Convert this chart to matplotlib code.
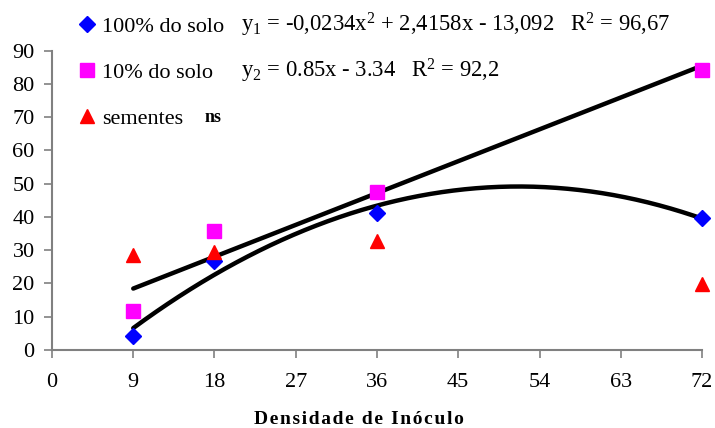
import matplotlib
matplotlib.use("Agg")
import matplotlib.pyplot as plt
import numpy as np

plt.rcParams["font.family"] = ["Liberation Serif", "DejaVu Serif"]
plt.rcParams["mathtext.fontset"] = "custom"
plt.rcParams["mathtext.rm"] = "Liberation Serif"
plt.rcParams["mathtext.it"] = "Liberation Serif"

# doses (x) and responses
dens = [9, 18, 36, 72]
solo100 = [4.2, 26.8, 41.3, 39.8]
solo10 = [11.7, 35.7, 47.5, 84.2]
sementes = [28.5, 29.5, 32.7, 19.8]

xticks = [0, 9, 18, 27, 36, 45, 54, 63, 72]
yticks = [0, 10, 20, 30, 40, 50, 60, 70, 80, 90]

eq1 = "y$_1$ = -0,0234x$^2$ + 2,4158x - 13,092   R$^2$ = 96,67"
eq2 = "y$_2$ = 0.85x - 3.34   R$^2$ = 92,2"
xlabel = "Densidade de Inóculo"

W, H = 715, 428
fig = plt.figure(figsize=(W / 100, H / 100), dpi=100)
ax = fig.add_axes([52 / W, 1 - 350 / H, (702 - 52) / W, 299.5 / H])

# trend lines (Excel-style fits of the data)
xs = np.linspace(dens[0], dens[-1], 200)
p1 = np.polyfit(dens, solo100, 2)
p2 = np.polyfit(dens, solo10, 1)
ax.plot(xs, np.polyval(p1, xs), color="black", lw=3.2, solid_capstyle="round", zorder=2)
ax.plot(xs, np.polyval(p2, xs), color="black", lw=3.2, solid_capstyle="round", zorder=2)

h1, = ax.plot(dens, solo100, "D", color="#0000ff", ms=8.5, clip_on=False, zorder=3, ls="none")
h2, = ax.plot(dens, solo10, "s", color="#ff00ff", ms=10, clip_on=False, zorder=3, ls="none")
h3, = ax.plot(dens, sementes, "^", color="#ff0000", ms=10.5, clip_on=False, zorder=3, ls="none")

ax.set_xlim(0, 72)
ax.set_ylim(0, 90)
ax.set_xticks(xticks)
ax.set_yticks(yticks)
for s in ["top", "right"]:
    ax.spines[s].set_visible(False)
for s in ["left", "bottom"]:
    ax.spines[s].set_color("#808080")
    ax.spines[s].set_linewidth(1.5)
ax.tick_params(direction="out", length=5.5, width=1.2, color="#808080",
               labelsize=16, labelcolor="black")
ax.tick_params(axis="y", pad=7)
ax.tick_params(axis="x", pad=11)

# bold, widely spaced axis title (hair spaces between letters)
spaced = "\u200a".join(xlabel)
fig.text(359 / W, 1 - 424 / H, spaced, fontsize=14, fontweight="bold",
         ha="center", va="baseline")

leg = fig.legend([h1, h2, h3], ["100% do solo", "10% do solo", "sementes"],
                 loc="upper left", bbox_to_anchor=(78 / W, 1 - 16 / H),
                 frameon=False, fontsize=16, handlelength=0.8, handletextpad=0.3,
                 labelspacing=1.16, borderpad=0, borderaxespad=0)

fig.text(241 / W, 1 - 25 / H, eq1, fontsize=16.3, va="center", ha="left")
fig.text(241 / W, 1 - 71 / H, eq2, fontsize=16.3, va="center", ha="left")
fig.text(205 / W, 1 - 118 / H, "ns", fontsize=13, fontweight="bold", va="center", ha="left")

fig.savefig("out.png", dpi=100)
